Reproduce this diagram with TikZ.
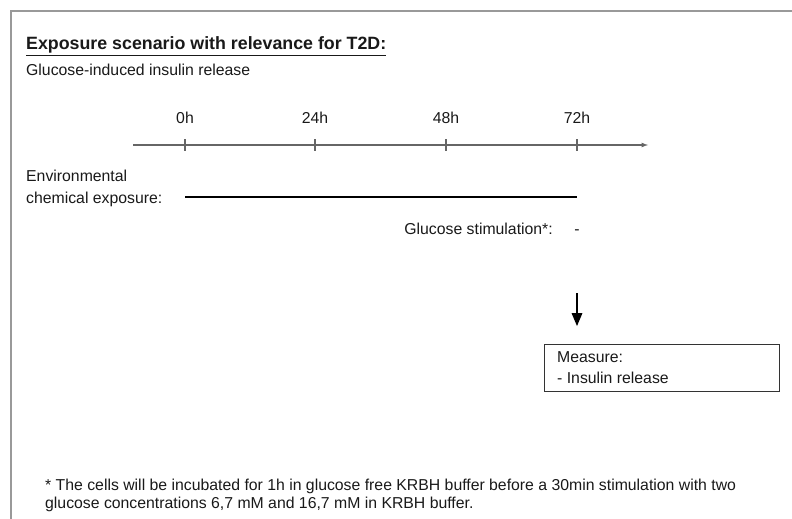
\documentclass[tikz,border=0pt]{standalone}
\usepackage{fontspec}
\setmainfont{Liberation Sans}
\usetikzlibrary{%
  positioning
 ,arrows
 ,calc
}
\tikzstyle{txt}=[anchor=base west,inner sep=0pt,text=black!90,font=\fontsize{15.8}{22}\selectfont]
\tikzstyle{tick}=[draw=black!60,line width=1.2pt]

\begin{document}
\begin{tikzpicture}[x=1pt,y=-1pt,
    every edge/.style={draw,line width=2pt,-triangle 45}]
  \useasboundingbox (0,0) rectangle (792,519);
  % the frame
  \draw[black!40,line width=1.5pt] (792,11) -- (11,11) -- (11,519);
  % the heading
  \node[txt,font=\bfseries\fontsize{17.8}{20}\selectfont](title) at (26,50)
    {\underline{Exposure scenario with relevance for T2D:}};
  \node[txt](sub) at (26,75){Glucose-induced insulin release};
  % the time axis
  \coordinate(ax0) at (133,145); \coordinate(ax1) at (648,145);
  \draw[black!60,line width=1.2pt,-latex] (ax0) -- (ax1);
  \foreach \x/\h in {185/0h,315/24h,446/48h,577/72h}{
    \coordinate(t\h) at (\x,145);
    \draw[tick] ($(t\h)+(0,-6)$) -- ($(t\h)+(0,6)$);
    \node[txt,anchor=south,above=21pt of t\h](l\h){\h};
  }
  % the exposure (base = last line)
  \node[txt,align=left](env) at (26,203){Environmental\\chemical exposure:};
  \coordinate(e0) at (185,197); \coordinate(e1) at (577,197);
  \draw[line width=1.5pt] (e0) -- (e1);
  \node[txt,anchor=base east](gs) at (553,234){Glucose stimulation*:};
  \node[txt,anchor=base](dash) at (577,234){-};
  % the measure
  \coordinate(m0) at (577,293); \coordinate(m1) at (577,326);
  \draw (m0) edge (m1);
  \node[draw=black!80,line width=1pt,minimum width=235,minimum height=47,
    anchor=north west,inner sep=0pt](measure) at (544,344){};
  \node[txt,align=left](mtxt) at (557,383){Measure:\\[-1pt]- Insulin release};
  % the footnote
  \node[txt,align=left,font=\fontsize{15.8}{18}\selectfont](note) at (45,508)
    {* The cells will be incubated for 1h in glucose free KRBH buffer before a 30min stimulation with two\\
     glucose concentrations 6,7 mM and 16,7 mM in KRBH buffer.};
\end{tikzpicture}
\end{document}
